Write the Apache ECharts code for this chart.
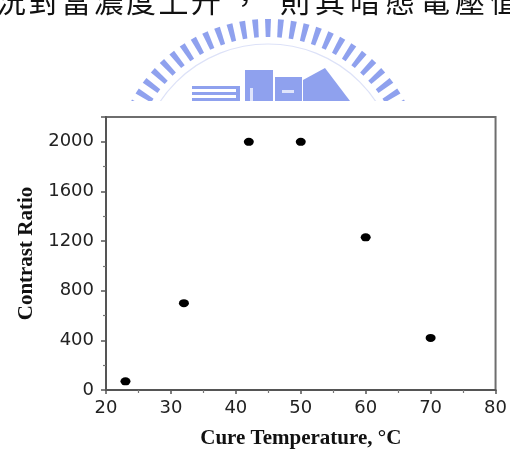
<!DOCTYPE html>
<html>
<head>
<meta charset="utf-8">
<script src="https://cdn.jsdelivr.net/npm/echarts@6/dist/echarts.min.js"></script>
<style>
html,body{margin:0;padding:0;background:#fff;}
#chart{width:510px;height:454px;}
</style>
</head>
<body>
<div id="chart"></div>
<script>
// ---- data ----
const cureTemps = [23, 32, 42, 50, 60, 70];          // °C
const contrastRatios = [70, 700, 2000, 2000, 1230, 420];
const xTickMin = 20, xTickMax = 80, xTickStep = 10;
const yTickMin = 0, yTickMax = 2200, yTickStep = 400;
const xTitle = 'Cure Temperature, °C';
const yTitle = 'Contrast Ratio';
const headerLeft = ['況', '對', '當', '濃', '度', '上', '升'];
const headerComma = '，';
const headerRight = ['則', '其', '暗', '態', '電', '壓', '值'];

// ---- decoration (page header text + watermark logo) ----
const graphics = [];
const headerFont = '30px "Noto Sans CJK TC"';
function headerChar(ch, cx) {
  graphics.push({
    type: 'text', z: -5,
    style: { text: ch, x: cx, y: 1, font: headerFont, fill: '#111',
             textAlign: 'center', textVerticalAlign: 'middle', verticalAlign: 'middle' }
  });
}
headerLeft.forEach((c, i) => headerChar(c, 11 + i * 32.5));
headerChar(headerComma, 245);
headerRight.forEach((c, i) => headerChar(c, 295 + i * 35));

const logoColor = '#8fa1ee';
const lcx = 268, lcy = 174, rOut = 155, rIn = 137;
const toRad = d => d * Math.PI / 180;
function pt(r, a) { return [lcx + r * Math.cos(toRad(a)), lcy - r * Math.sin(toRad(a))]; }
for (let k = -15; k <= 15; k++) {
  const a = 90 + k * 4.8;
  graphics.push({
    type: 'polygon', z: -10,
    shape: { points: [pt(rOut, a - 1.1), pt(rOut, a + 1.1), pt(rIn, a + 0.95), pt(rIn, a - 0.95)] },
    style: { fill: logoColor }
  });
}
graphics.push({ type: 'circle', z: -10, shape: { cx: lcx, cy: lcy, r: 130 },
  style: { fill: 'none', stroke: '#dde2f8', lineWidth: 1.2 } });
// building
[[192, 86, 44, 3], [192, 92, 44, 3], [192, 98, 44, 3], [236, 86, 4, 15],
 [245, 70, 28, 31], [275, 77, 27, 24]].forEach(r => {
  graphics.push({ type: 'rect', z: -10, shape: { x: r[0], y: r[1], width: r[2], height: r[3] },
    style: { fill: logoColor } });
});
graphics.push({ type: 'polygon', z: -10,
  shape: { points: [[303, 80], [325, 68], [350, 101], [303, 101]] }, style: { fill: logoColor } });
graphics.push({ type: 'rect', z: -10, shape: { x: 250, y: 88, width: 3, height: 13 }, style: { fill: '#dfe4fb' } });
graphics.push({ type: 'rect', z: -10, shape: { x: 282, y: 90, width: 12, height: 3 }, style: { fill: '#dfe4fb' } });
// white page area of the figure, covering the lower part of the watermark
graphics.push({ type: 'rect', z: -1, shape: { x: 0, y: 101, width: 510, height: 353 }, style: { fill: '#fff' } });

const chart = echarts.init(document.getElementById('chart'), null, { renderer: 'canvas' });
chart.setOption({
  animation: false,
  backgroundColor: '#fff',
  graphic: graphics,
  grid: { left: 106, right: 14, top: 117, bottom: 62, show: true,
          borderColor: '#6e6e6e', borderWidth: 2, backgroundColor: 'transparent', containLabel: false },
  xAxis: {
    type: 'value', min: xTickMin, max: xTickMax, interval: xTickStep,
    axisLine: { show: true, lineStyle: { color: '#555', width: 2 } },
    axisTick: { show: true, length: 4, lineStyle: { color: '#555', width: 1.5 } },
    minorTick: { show: true, splitNumber: 2, length: 3, lineStyle: { color: '#777', width: 1.2 } },
    splitLine: { show: false },
    axisLabel: { margin: 9, fontSize: 18, color: '#222', fontFamily: '"DejaVu Sans"',
                 formatter: v => String(v) },
    name: xTitle, nameLocation: 'middle', nameGap: 38,
    nameTextStyle: { fontFamily: '"Liberation Serif"', fontWeight: 'bold', fontSize: 21, color: '#111' }
  },
  yAxis: {
    type: 'value', min: yTickMin, max: yTickMax, interval: yTickStep,
    axisLine: { show: true, lineStyle: { color: '#555', width: 2 } },
    axisTick: { show: true, length: 5, lineStyle: { color: '#555', width: 1.5 } },
    minorTick: { show: true, splitNumber: 2, length: 3, lineStyle: { color: '#777', width: 1.2 } },
    splitLine: { show: false },
    axisLabel: { margin: 12, fontSize: 18, color: '#222', fontFamily: '"DejaVu Sans"', showMaxLabel: false,
                 formatter: v => String(v) },
    name: yTitle, nameLocation: 'middle', nameGap: 62,
    nameTextStyle: { fontFamily: '"Liberation Serif"', fontWeight: 'bold', fontSize: 21, color: '#111' }
  },
  series: [{
    type: 'scatter',
    data: cureTemps.map((t, i) => [t, contrastRatios[i]]),
    symbol: 'circle', symbolSize: [10, 8],
    itemStyle: { color: '#000', opacity: 1 }
  }]
});
</script>
</body>
</html>
